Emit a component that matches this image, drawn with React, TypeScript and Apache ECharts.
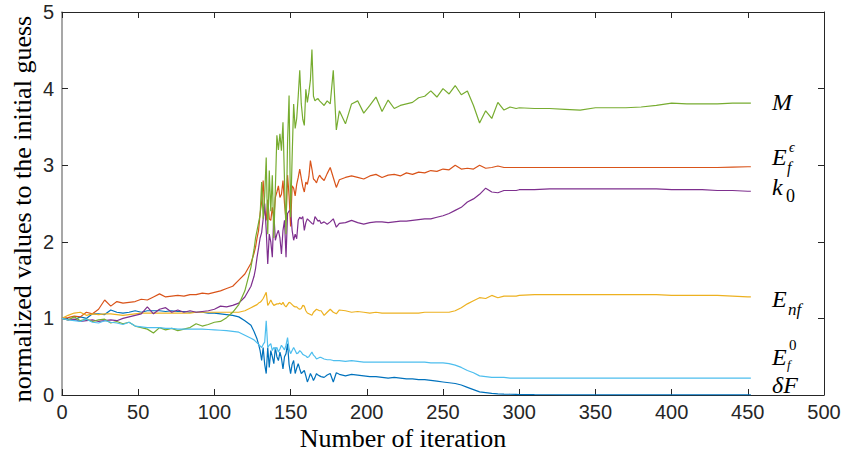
import React, { useEffect, useRef } from "react";
import * as echarts from "echarts";

// Iteration numbers at which the normalized parameters are sampled
const iterations = [
  0, 4, 8, 12, 16, 20, 24, 28, 32, 36, 40, 44, 48, 52, 56, 60, 64, 68, 72, 76, 80, 84, 88, 92, 96, 100, 104, 108, 112, 116, 120, 124,
  126, 127, 128, 129, 130, 131, 132, 133, 134, 135, 136, 137, 138, 139, 140, 141, 142, 143, 144, 145, 146, 147, 148, 149, 150,
  151, 152, 153, 154, 155, 156, 157, 158, 159, 160, 161, 162, 163, 164, 165, 166, 167, 168, 169, 170,
  172, 174, 176, 178, 180, 182,
  186, 190, 194, 198, 202, 206, 210, 214, 218, 222, 226, 230, 234, 238, 242, 246, 250, 254, 258, 262, 266, 270, 274, 278, 282, 286, 290, 294, 298,
  300, 310, 320, 330, 340, 350, 360, 370, 380, 390, 400, 410, 420, 430, 440, 450, 452,
];

const deltaF = [
  1.0, 0.99, 0.98, 1.02, 1.0, 1.06, 1.06, 1.05, 1.11, 1.08, 1.07, 1.08, 1.1, 1.08, 1.1, 1.1, 1.1, 1.09, 1.1, 1.09, 1.09, 1.08, 1.08, 1.08, 1.07, 1.07, 1.06, 1.05, 1.04, 1.02, 0.97, 0.91,
  0.83, 0.78, 0.73, 0.66, 0.58, 0.45, 0.62, 0.4, 0.28, 0.62, 0.36, 0.58, 0.5, 0.41, 0.62, 0.5, 0.45, 0.56, 0.48, 0.34, 0.5, 0.54, 0.67, 0.4, 0.28,
  0.4, 0.45, 0.28, 0.35, 0.41, 0.34, 0.28, 0.3, 0.32, 0.25, 0.17, 0.22, 0.28, 0.24, 0.19, 0.23, 0.28, 0.26, 0.25, 0.24,
  0.23, 0.26, 0.28, 0.17, 0.29, 0.27,
  0.25, 0.27, 0.26, 0.25, 0.24, 0.24, 0.23, 0.22, 0.23, 0.22, 0.21, 0.21, 0.2, 0.2, 0.19, 0.18, 0.17, 0.16, 0.15, 0.13, 0.1, 0.07, 0.04, 0.03, 0.02, 0.015, 0.012, 0.01, 0.008,
  0.006, 0.004, 0.003, 0.002, 0.002, 0.002, 0.002, 0.002, 0.002, 0.002, 0.002, 0.002, 0.002, 0.002, 0.002, 0.002, 0.002,
];

const efEps = [
  1.0, 1.01, 1.03, 1.02, 1.08, 1.06, 1.12, 1.24, 1.16, 1.22, 1.2, 1.21, 1.22, 1.25, 1.24, 1.28, 1.32, 1.28, 1.29, 1.3, 1.29, 1.31, 1.31, 1.33, 1.32, 1.34, 1.36, 1.39, 1.42, 1.5, 1.58, 1.72,
  1.85, 1.93, 2.05, 2.15, 2.37, 2.52, 2.8, 2.4, 2.28, 2.55, 2.3, 2.28, 2.45, 2.3, 2.58, 2.65, 2.73, 2.58, 2.62, 2.8, 2.5, 2.28, 2.87, 2.6, 2.2,
  2.73, 2.7, 2.6, 2.75, 2.84, 2.95, 2.83, 2.72, 2.65, 2.78, 2.75, 2.85, 3.06, 2.95, 2.82, 2.8, 2.77, 2.83, 2.87, 2.84,
  2.8, 2.89, 2.97, 2.84, 2.71, 2.81,
  2.84, 2.86, 2.84, 2.82, 2.86, 2.88, 2.84, 2.87, 2.88, 2.86, 2.9, 2.88, 2.91, 2.9, 2.93, 2.92, 2.95, 2.94, 3.0, 2.95, 2.96, 2.95, 3.0, 2.96, 2.97, 2.99, 2.97, 2.97, 2.97,
  2.97, 2.97, 2.97, 2.97, 2.97, 2.97, 2.97, 2.97, 2.97, 2.97, 2.97, 2.97, 2.97, 2.97, 2.975, 2.98, 2.98,
];

const enf = [
  1.0, 1.04, 1.07, 1.08, 1.04, 1.06, 1.05, 1.06, 1.06, 1.05, 1.04, 1.05, 1.06, 1.07, 1.07, 1.07, 1.07, 1.07, 1.07, 1.07, 1.07, 1.07, 1.08, 1.08, 1.08, 1.08, 1.08, 1.08, 1.08, 1.08, 1.1, 1.14,
  1.16, 1.17, 1.18, 1.2, 1.21, 1.23, 1.26, 1.3, 1.34, 1.17, 1.2, 1.24, 1.2, 1.17, 1.18, 1.19, 1.19, 1.2, 1.18, 1.21, 1.17, 1.15, 1.18, 1.21, 1.2,
  1.18, 1.16, 1.15, 1.15, 1.13, 1.12, 1.13, 1.17, 1.16, 1.1, 1.07, 1.06, 1.05, 1.04, 1.08, 1.1, 1.12, 1.11, 1.1, 1.1,
  1.04, 1.08, 1.12, 1.08, 1.06, 1.11,
  1.1, 1.08, 1.09, 1.08, 1.07, 1.08, 1.07, 1.07, 1.07, 1.07, 1.07, 1.07, 1.07, 1.08, 1.08, 1.08, 1.08, 1.08, 1.1, 1.14, 1.19, 1.23, 1.27, 1.26, 1.3, 1.27, 1.29, 1.29, 1.29,
  1.3, 1.31, 1.31, 1.31, 1.31, 1.31, 1.31, 1.31, 1.31, 1.31, 1.3, 1.3, 1.3, 1.3, 1.29, 1.28, 1.28,
];

const k0 = [
  1.0, 0.98, 0.99, 0.96, 0.97, 0.98, 0.96, 0.97, 0.98, 0.97, 1.0, 1.02, 1.04, 1.06, 1.15, 1.06, 1.12, 1.14, 1.08, 1.11, 1.08, 1.1, 1.08, 1.09, 1.1, 1.12, 1.16, 1.15, 1.17, 1.2, 1.28, 1.42,
  1.55, 1.65, 1.8, 1.92, 2.05, 2.12, 2.3, 2.5, 2.15, 1.71, 2.1, 2.0, 1.8, 2.37, 2.02, 2.1, 2.15, 2.05, 1.84, 2.15, 2.28, 1.8, 2.37, 2.4, 2.41,
  2.15, 2.02, 2.1, 2.04, 2.28, 2.32, 2.3, 2.33, 2.15, 2.25, 2.3, 2.28, 2.26, 2.24, 2.23, 2.33, 2.3, 2.27, 2.28, 2.24,
  2.26, 2.23, 2.26, 2.3, 2.19, 2.24,
  2.25, 2.28, 2.25, 2.23, 2.25, 2.26, 2.26, 2.25, 2.26, 2.27, 2.27, 2.28, 2.29, 2.3, 2.3, 2.32, 2.34, 2.37, 2.41, 2.45, 2.52, 2.56, 2.62, 2.7, 2.65, 2.64, 2.67, 2.67, 2.67,
  2.68, 2.68, 2.69, 2.69, 2.69, 2.69, 2.69, 2.69, 2.69, 2.69, 2.68, 2.68, 2.68, 2.67, 2.67, 2.66, 2.66,
];

const mValues = [
  1.0, 0.98, 1.02, 0.97, 0.99, 0.96, 0.98, 0.99, 0.94, 0.96, 0.93, 0.95, 0.9, 0.88, 0.86, 0.81, 0.88, 0.85, 0.87, 0.84, 0.86, 0.88, 0.93, 0.9, 0.92, 0.95, 0.96, 1.01, 1.08, 1.18, 1.36, 1.67,
  1.9, 2.05, 2.15, 2.25, 2.35, 2.78, 2.3, 2.6, 3.1, 2.1, 2.93, 2.4, 2.87, 2.05, 2.7, 3.39, 3.2, 3.41, 3.19, 3.56, 2.8, 2.1, 3.3, 3.91, 2.32,
  3.1, 3.8, 3.48, 3.61, 3.9, 4.24, 3.8, 3.6, 3.52, 3.99, 3.82, 3.95, 4.11, 4.51, 3.9, 3.84, 3.86, 3.87, 3.84, 3.82,
  3.78, 3.84, 3.8, 4.24, 3.46, 3.71,
  3.54, 3.8, 3.84, 3.68, 3.78, 3.89, 3.7, 3.85, 3.74, 3.78, 3.8, 3.82, 3.88, 3.9, 3.97, 3.89, 4.0, 3.93, 4.04, 3.92, 3.97, 3.78, 3.55, 3.71, 3.61, 3.82, 3.72, 3.76, 3.74,
  3.75, 3.74, 3.74, 3.73, 3.72, 3.75, 3.75, 3.75, 3.76, 3.78, 3.81, 3.8, 3.8, 3.8, 3.81, 3.81, 3.81,
];

const ef0 = [
  1.0, 0.98, 0.97, 0.96, 0.99, 0.95, 0.94, 0.97, 0.95, 0.94, 0.92, 0.95, 0.9, 0.89, 0.88, 0.88, 0.88, 0.87, 0.87, 0.86, 0.86, 0.86, 0.86, 0.86, 0.855, 0.85, 0.845, 0.84, 0.83, 0.82, 0.78, 0.74,
  0.72, 0.7, 0.68, 0.66, 0.64, 0.62, 0.66, 0.69, 0.97, 0.62, 0.65, 0.67, 0.58, 0.62, 0.6, 0.62, 0.56, 0.6, 0.65, 0.62, 0.59, 0.65, 0.75, 0.6, 0.54,
  0.58, 0.62, 0.58, 0.54, 0.55, 0.58, 0.56, 0.53, 0.52, 0.51, 0.49, 0.5, 0.53, 0.56, 0.52, 0.5, 0.47, 0.48, 0.49, 0.49,
  0.47, 0.46, 0.46, 0.45, 0.45, 0.45,
  0.44, 0.45, 0.44, 0.43, 0.43, 0.43, 0.43, 0.43, 0.43, 0.43, 0.43, 0.43, 0.43, 0.43, 0.42, 0.42, 0.42, 0.41, 0.39, 0.36, 0.32, 0.29, 0.25, 0.24, 0.23, 0.23, 0.23, 0.22, 0.22,
  0.22, 0.22, 0.22, 0.22, 0.22, 0.22, 0.22, 0.22, 0.22, 0.22, 0.22, 0.22, 0.22, 0.22, 0.22, 0.22, 0.22,
];

// Plot order follows the default MATLAB colour order
const seriesDefs = [
  { name: "δF", values: deltaF, color: "#0072BD" },
  { name: "Ef eps", values: efEps, color: "#D95319" },
  { name: "Enf", values: enf, color: "#EDB120" },
  { name: "k0", values: k0, color: "#7E2F8E" },
  { name: "M", values: mValues, color: "#77AC30" },
  { name: "Ef 0", values: ef0, color: "#4DBEEE" },
];

const AXIS_COLOR = "#262626";
const MATH_FONT = "'Liberation Serif', 'DejaVu Serif', serif";
const TITLE_FONT = "26px 'Liberation Serif', serif";

function mathText(text: string, x: number, y: number, size: number, italic = true) {
  return {
    type: "text",
    x,
    y,
    silent: true,
    style: {
      text,
      fill: "#000",
      font: `${italic ? "italic " : ""}${size}px ${MATH_FONT}`,
      lineHeight: Math.round(size * 0.75),
      align: "left",
      verticalAlign: "middle",
    },
  };
}

export default function App() {
  const ref = useRef<HTMLDivElement>(null);

  useEffect(() => {
    if (!ref.current) return;
    const chart = echarts.init(ref.current, null, { renderer: "svg" });

    const baseX = {
      type: "value",
      min: 0,
      max: 500,
      interval: 50,
      splitLine: { show: false },
      axisLine: { show: true, onZero: false, lineStyle: { color: AXIS_COLOR, width: 1 } },
      axisTick: { show: true, inside: true, length: 6, lineStyle: { color: AXIS_COLOR, width: 1 } },
    };
    const baseY = {
      type: "value",
      min: 0,
      max: 5,
      interval: 1,
      splitLine: { show: false },
      axisLine: { show: true, onZero: false, lineStyle: { color: AXIS_COLOR, width: 1 } },
      axisTick: { show: true, inside: true, length: 6, lineStyle: { color: AXIS_COLOR, width: 1 } },
    };

    chart.setOption({
      animation: false,
      backgroundColor: "#fff",
      grid: { left: 62, right: 20, top: 12, bottom: 64, containLabel: false },
      xAxis: [
        {
          ...baseX,
          position: "bottom",
          axisLabel: { fontSize: 20, fontFamily: "'Liberation Sans', Arial, sans-serif", color: AXIS_COLOR, margin: 7 },
        },
        { ...baseX, position: "top", axisLabel: { show: false } },
      ],
      yAxis: [
        {
          ...baseY,
          position: "left",
          axisLine: { show: true, onZero: false, lineStyle: { color: "#8a8a8a", width: 1.5 } },
          axisLabel: { fontSize: 20, fontFamily: "'Liberation Sans', Arial, sans-serif", color: AXIS_COLOR, margin: 8 },
        },
        { ...baseY, position: "right", axisLabel: { show: false } },
      ],
      series: seriesDefs.map((s) => ({
        name: s.name,
        type: "line",
        xAxisIndex: 0,
        yAxisIndex: 0,
        data: iterations.map((it, i) => [it, s.values[i]]),
        showSymbol: false,
        symbol: "none",
        lineStyle: { color: s.color, width: 1.2 },
        itemStyle: { color: s.color },
        emphasis: { disabled: true },
      })),
      graphic: [
        // axis titles
        {
          type: "text",
          x: 403,
          y: 438,
          silent: true,
          style: { text: "Number of iteration", fill: "#000", font: TITLE_FONT, align: "center", verticalAlign: "middle" },
        },
        {
          type: "text",
          x: 22,
          y: 209,
          rotation: Math.PI / 2,
          silent: true,
          style: {
            text: "normalized values to the initial guess",
            fill: "#000",
            font: TITLE_FONT,
            align: "center",
            verticalAlign: "middle",
          },
        },
        // curve labels at the right edge
        mathText("M", 772, 102, 24),
        mathText("E", 772, 157, 24),
        mathText("ϵ", 789, 147, 14),
        mathText("f", 787, 167, 16),
        mathText("k", 772, 187, 24),
        mathText("0", 786, 196, 18, false),
        mathText("E", 772, 299, 24),
        mathText("nf", 788, 309, 17),
        mathText("E", 772, 357, 24),
        mathText("0", 789, 345, 15, false),
        mathText("f", 787, 364, 13),
        mathText("δF", 772, 385, 24),
      ],
    });

    return () => chart.dispose();
  }, []);

  return <div ref={ref} style={{ width: 844, height: 459, position: "absolute", left: 0, top: 0 }} />;
}
